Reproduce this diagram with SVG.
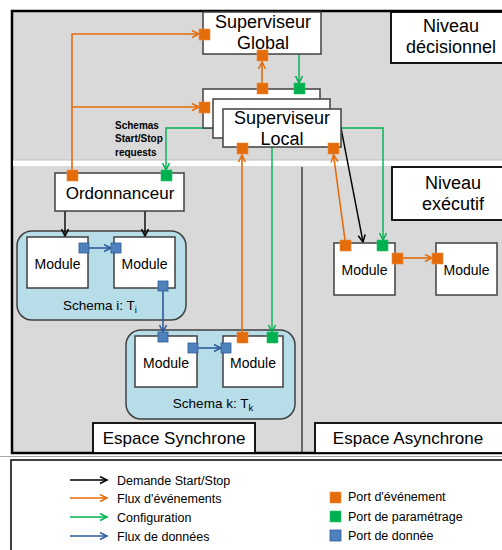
<svg xmlns="http://www.w3.org/2000/svg" width="502" height="550" viewBox="0 0 502 550">
<defs>
<style>
.t{font-family:"Liberation Sans",Arial,sans-serif;fill:#000}
.big{font-size:18px}
.mid{font-size:17px}
.mod{font-size:14px}
.sch{font-size:13.5px}
.leg{font-size:12.5px}
.box{fill:#fff;stroke:#404040;stroke-width:1.5}
.lbl{fill:#fff;stroke:#000;stroke-width:1.8}
.schema{fill:#b7dde8;stroke:#404040;stroke-width:1.5}
.po{fill:#e46c0a;stroke:#f08a3c;stroke-width:0.6}
.pg{fill:#00b050;stroke:#2cc46a;stroke-width:0.6}
.pb{fill:#4f81bd;stroke:#2e5c9a;stroke-width:0.8}
.co{fill:none;stroke:#e46c0a;stroke-width:1.6;marker-end:url(#ao)}
.cg{fill:none;stroke:#00b050;stroke-width:1.4;marker-end:url(#ag)}
.cb{fill:none;stroke:#2e5c9a;stroke-width:1.6;marker-end:url(#ab)}
.ck{fill:none;stroke:#000;stroke-width:1.4;marker-end:url(#ak)}
</style>
<marker id="ao" markerUnits="userSpaceOnUse" markerWidth="10" markerHeight="10" refX="8" refY="4" orient="auto"><path d="M1,0.5 L8,4 L1,7.5" fill="none" stroke="#e46c0a" stroke-width="1.5"/></marker>
<marker id="ag" markerUnits="userSpaceOnUse" markerWidth="10" markerHeight="10" refX="8" refY="4" orient="auto"><path d="M1,0.5 L8,4 L1,7.5" fill="none" stroke="#00b050" stroke-width="1.5"/></marker>
<marker id="ab" markerUnits="userSpaceOnUse" markerWidth="10" markerHeight="10" refX="8" refY="4" orient="auto"><path d="M1,0.5 L8,4 L1,7.5" fill="none" stroke="#2e5c9a" stroke-width="1.5"/></marker>
<marker id="ak" markerUnits="userSpaceOnUse" markerWidth="10" markerHeight="10" refX="8" refY="4" orient="auto"><path d="M1,0.5 L8,4 L1,7.5" fill="none" stroke="#000" stroke-width="1.5"/></marker>
</defs>
<rect width="502" height="550" fill="#fff"/>
<!-- background frame -->
<g id="frame">
<rect x="12" y="11" width="492" height="442" fill="#d9d9d9" stroke="#000" stroke-width="2.5"/>
<rect x="13" y="160" width="490" height="6" fill="#fff"/>
<line x1="13" y1="160" x2="502" y2="160" stroke="#bfbfbf" stroke-width="1"/>
<line x1="302" y1="167" x2="302" y2="452" stroke="#404040" stroke-width="1.5"/>
<line x1="0" y1="456.5" x2="502" y2="456.5" stroke="#a6a6a6" stroke-width="1"/>
</g>
<!-- schema regions -->
<g id="schema-i">
<rect class="schema" x="17" y="231" width="169" height="89" rx="15"/>
<text class="t sch" x="100" y="310" text-anchor="middle">Schema i: T<tspan font-size="9.5" dy="3">i</tspan></text>
</g>
<g id="schema-k">
<rect class="schema" x="126" y="330" width="169" height="89" rx="15"/>
<text class="t sch" x="213" y="408" text-anchor="middle">Schema k: T<tspan font-size="9.5" dy="3">k</tspan></text>
</g>
<!-- connectors -->
<g id="connectors">
<path class="co" d="M72,170 V34 H199"/>
<path class="co" d="M72,107 H199"/>
<path class="co" d="M262,83 V62"/>
<path class="cg" d="M299,54 V83"/>
<path class="cg" d="M213,128 H166 V170"/>
<path class="cg" d="M341,128 H383 V240"/>
<path class="cg" d="M272,147 V332"/>
<path class="co" d="M242,332 V155"/>
<path class="co" d="M345,240 L333.5,155"/>
<path class="ck" d="M341,128 L363,242"/>
<path class="ck" d="M65,211 V236"/>
<path class="ck" d="M145,211 V236"/>
<path class="cb" d="M89,248 H111"/>
<path class="cb" d="M163,291 V332"/>
<path class="cb" d="M198,348 H221"/>
<path class="co" d="M403,258 H432"/>
</g>
<!-- nodes -->
<g id="superviseur-global">
<rect class="box" x="203" y="12" width="118" height="42"/>
<text class="t big" x="263" y="28" text-anchor="middle">Superviseur</text>
<text class="t big" x="263" y="49" text-anchor="middle">Global</text>
<rect class="po" x="199" y="29" width="11" height="11"/>
<rect class="po" x="257" y="50" width="11" height="11"/>
</g>
<g id="niveau-decisionnel">
<rect class="lbl" x="391" y="12" width="120" height="51"/>
<text class="t big" x="451" y="32" text-anchor="middle">Niveau</text>
<text class="t big" x="451" y="53" text-anchor="middle">décisionnel</text>
</g>
<g id="superviseur-local">
<rect class="box" x="203" y="89" width="117" height="39"/>
<rect class="box" x="213" y="99" width="117" height="39"/>
<rect class="box" x="223" y="109" width="118" height="38"/>
<text class="t big" x="282" y="124" text-anchor="middle">Superviseur</text>
<text class="t big" x="282" y="145" text-anchor="middle">Local</text>
<rect class="po" x="257" y="83" width="11" height="11"/>
<rect class="pg" x="294" y="83" width="11" height="11"/>
<rect class="po" x="199" y="102" width="11" height="11"/>
<rect class="po" x="237" y="143" width="11" height="11"/>
<rect class="po" x="328" y="143" width="11" height="11"/>
</g>
<g id="schemas-label">
<text class="t" font-size="10" font-weight="bold" x="115" y="129">Schemas</text>
<text class="t" font-size="10" font-weight="bold" x="115" y="142">Start/Stop</text>
<text class="t" font-size="10" font-weight="bold" x="115" y="156">requests</text>
</g>
<g id="ordonnanceur">
<rect class="box" x="55" y="173" width="129" height="38"/>
<text class="t mid" x="120" y="199" text-anchor="middle">Ordonnanceur</text>
<rect class="po" x="67" y="170" width="11" height="11"/>
<rect class="pg" x="161" y="170" width="11" height="11"/>
</g>
<g id="niveau-executif">
<rect class="lbl" x="392" y="167" width="120" height="53"/>
<text class="t big" x="453" y="189" text-anchor="middle">Niveau</text>
<text class="t big" x="453" y="210" text-anchor="middle">exécutif</text>
</g>
<g id="module-i1">
<rect class="box" x="27" y="237" width="61" height="51"/>
<text class="t mod" x="57.5" y="269" text-anchor="middle">Module</text>
<rect class="pb" x="79" y="243" width="10" height="10"/>
</g>
<g id="module-i2">
<rect class="box" x="114" y="237" width="61" height="51"/>
<text class="t mod" x="144.5" y="269" text-anchor="middle">Module</text>
<rect class="pb" x="111" y="243" width="10" height="10"/>
<rect class="pb" x="158" y="281" width="10" height="10"/>
</g>
<g id="module-k1">
<rect class="box" x="135" y="336" width="62" height="51"/>
<text class="t mod" x="166" y="368" text-anchor="middle">Module</text>
<rect class="pb" x="158" y="332" width="10" height="10"/>
<rect class="pb" x="188" y="343" width="10" height="10"/>
</g>
<g id="module-k2">
<rect class="box" x="223" y="336" width="60" height="51"/>
<text class="t mod" x="253" y="368" text-anchor="middle">Module</text>
<rect class="pb" x="221" y="343" width="10" height="10"/>
<rect class="po" x="237" y="332" width="11" height="11"/>
<rect class="pg" x="267" y="332" width="11" height="11"/>
</g>
<g id="module-a1">
<rect class="box" x="334" y="243" width="61" height="52"/>
<text class="t mod" x="364.5" y="275" text-anchor="middle">Module</text>
<rect class="po" x="340" y="240" width="11" height="11"/>
<rect class="pg" x="377" y="240" width="11" height="11"/>
<rect class="po" x="392" y="253" width="11" height="11"/>
</g>
<g id="module-a2">
<rect class="box" x="436" y="243" width="61" height="52"/>
<text class="t mod" x="466.5" y="275" text-anchor="middle">Module</text>
<rect class="po" x="432" y="253" width="11" height="11"/>
</g>
<g id="espace-synchrone">
<rect class="lbl" x="93" y="423" width="162" height="30"/>
<text class="t mid" x="174" y="444" text-anchor="middle">Espace Synchrone</text>
</g>
<g id="espace-asynchrone">
<rect class="lbl" x="315" y="423" width="195" height="30"/>
<text class="t mid" x="408" y="444" text-anchor="middle">Espace Asynchrone</text>
</g>
<!-- legend -->
<g id="legend">
<rect x="11" y="460" width="500" height="100" fill="#fff" stroke="#000" stroke-width="1.5"/>
<line x1="70" y1="480" x2="107" y2="480" class="ck"/>
<line x1="70" y1="498" x2="107" y2="498" class="co"/>
<line x1="70" y1="517" x2="107" y2="517" class="cg"/>
<line x1="70" y1="536" x2="107" y2="536" class="cb"/>
<text class="t leg" x="117" y="485">Demande Start/Stop</text>
<text class="t leg" x="117" y="503">Flux d'événements</text>
<text class="t leg" x="117" y="522">Configuration</text>
<text class="t leg" x="117" y="541">Flux de données</text>
<rect class="po" x="330" y="492" width="11" height="11"/>
<rect class="pg" x="330" y="511" width="11" height="11"/>
<rect class="pb" x="330" y="530" width="11" height="11"/>
<text class="t leg" x="348" y="501">Port d'événement</text>
<text class="t leg" x="348" y="521">Port de paramétrage</text>
<text class="t leg" x="348" y="540">Port de donnée</text>
</g>
</svg>
